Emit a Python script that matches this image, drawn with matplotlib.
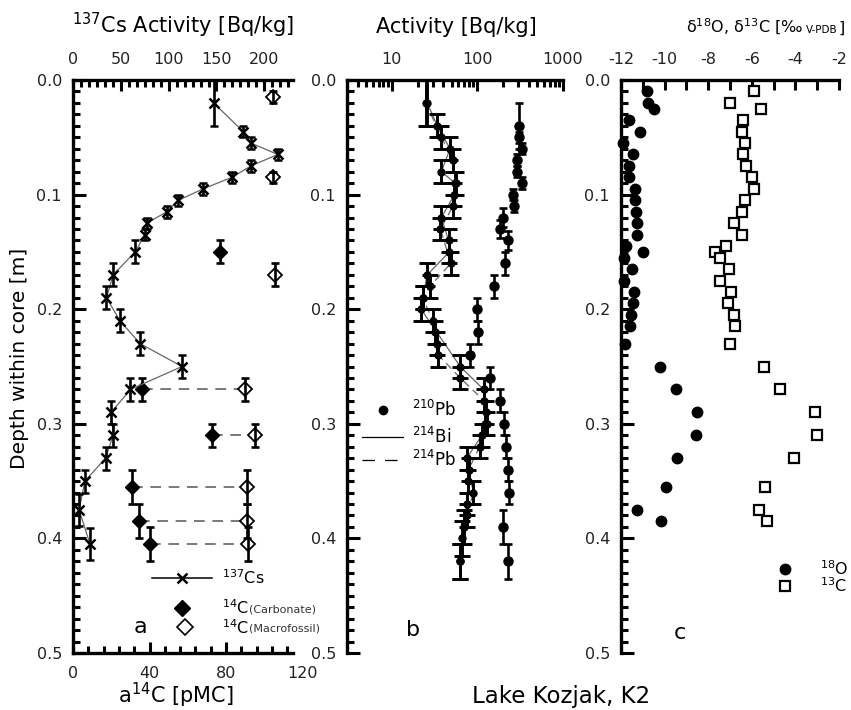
import matplotlib
matplotlib.use('Agg')
import matplotlib.pyplot as plt
from matplotlib.ticker import MultipleLocator, AutoMinorLocator, LogLocator, FormatStrFormatter, FuncFormatter, NullFormatter

plt.rcParams['font.family'] = 'DejaVu Sans'
plt.rcParams['axes.unicode_minus'] = False

# ---- panel a: 137Cs and 14C ----
depth_cs = [0.02, 0.045, 0.055, 0.065, 0.075, 0.085, 0.095, 0.105, 0.115, 0.125, 0.135,
            0.15, 0.17, 0.19, 0.21, 0.23, 0.25, 0.27, 0.29, 0.31, 0.33, 0.35, 0.375, 0.405]
cs137 = [147, 178, 186, 214, 186, 166, 136, 110, 98, 77, 75,
         65, 42, 35, 49, 70, 114, 60, 40, 42, 34, 12.5, 6.3, 17.8]
cs_err = [0.02, 0.005, 0.005, 0.005, 0.005, 0.005, 0.005, 0.005, 0.005, 0.005, 0.005,
          0.01, 0.01, 0.01, 0.01, 0.01, 0.01, 0.01, 0.01, 0.01, 0.01, 0.01, 0.014, 0.014]

depth_carb = [0.15, 0.27, 0.31, 0.355, 0.385, 0.405]
c14_carb = [77, 36, 72.5, 31, 34.5, 40]
carb_err = [0.01, 0.01, 0.01, 0.015, 0.015, 0.015]

depth_macro = [0.015, 0.085, 0.17, 0.27, 0.31, 0.355, 0.385, 0.405]
c14_macro = [104.7, 104.7, 105.6, 90, 95, 91, 91, 91.5]
macro_err = [0.005, 0.005, 0.01, 0.01, 0.01, 0.015, 0.015, 0.015]

# ---- panel b: 210Pb, 214Bi, 214Pb ----
depth_pb210 = [0.04, 0.05, 0.06, 0.07, 0.08, 0.09, 0.10, 0.11, 0.12, 0.13, 0.14, 0.16,
               0.18, 0.20, 0.22, 0.24, 0.26, 0.28, 0.30, 0.32, 0.34, 0.36, 0.39, 0.42]
pb210 = [303, 308, 331, 290, 294, 331, 264, 269, 199, 185, 227, 211,
         158, 99, 101, 82, 141, 185, 202, 217, 227, 233, 199, 227]
pb210_err = [0.02, 0.005, 0.005, 0.005, 0.005, 0.005, 0.005, 0.005, 0.008, 0.008, 0.008, 0.01,
             0.01, 0.01, 0.01, 0.01, 0.01, 0.01, 0.01, 0.01, 0.01, 0.01, 0.015, 0.015]

depth_bi = [0.02, 0.04, 0.06, 0.08, 0.09, 0.10, 0.12, 0.14, 0.15, 0.17, 0.19,
            0.20, 0.25, 0.27, 0.29, 0.30, 0.31, 0.33, 0.35, 0.37, 0.39, 0.42]
bi214 = [26, 34, 48, 38, 55, 54, 38, 46, 47, 26, 23,
         22, 63, 118, 127, 129, 113, 75, 78, 75, 69, 63]
bi_err = [0.02, 0.01, 0.01, 0.01, 0.01, 0.01, 0.01, 0.01, 0.01, 0.01, 0.01,
          0.01, 0.01, 0.01, 0.01, 0.01, 0.01, 0.01, 0.01, 0.01, 0.015, 0.015]

depth_pb214 = [0.02, 0.05, 0.07, 0.09, 0.11, 0.13, 0.16, 0.18, 0.19, 0.21, 0.22,
               0.23, 0.24, 0.26, 0.28, 0.30, 0.32, 0.34, 0.36, 0.38, 0.40, 0.42]
pb214 = [25, 38, 52, 56, 52, 37, 49, 28, 23, 30, 32,
         34, 35, 63, 120, 124, 106, 79, 90, 75, 66, 63]
pb214_err = [0.02, 0.01, 0.01, 0.01, 0.01, 0.01, 0.01, 0.01, 0.01, 0.01, 0.01,
             0.01, 0.01, 0.01, 0.01, 0.01, 0.01, 0.01, 0.01, 0.01, 0.015, 0.015]

# ---- panel c: stable isotopes ----
depth_iso = [0.01, 0.02, 0.025, 0.035, 0.045, 0.055, 0.065, 0.075, 0.085, 0.095,
             0.105, 0.115, 0.125, 0.135, 0.145, 0.15, 0.155, 0.165, 0.175, 0.185,
             0.195, 0.205, 0.215, 0.23, 0.25, 0.27, 0.29, 0.31, 0.33, 0.355, 0.375, 0.385]
d18o = [-10.8, -10.75, -10.5, -11.65, -11.15, -11.9, -11.45, -11.65, -11.65, -11.35,
        -11.35, -11.3, -11.25, -11.25, -11.75, -11.0, -11.85, -11.5, -11.85, -11.4,
        -11.45, -11.55, -11.6, -11.8, -10.2, -9.5, -8.5, -8.55, -9.45, -9.95, -11.25, -10.15]
d13c = [-5.9, -7.0, -5.6, -6.4, -6.45, -6.3, -6.4, -6.25, -6.0, -5.9,
        -6.3, -6.45, -6.8, -6.45, -7.2, -7.7, -7.45, -7.05, -7.45, -6.95,
        -7.1, -6.8, -6.75, -7.0, -5.45, -4.7, -3.1, -3.0, -4.05, -5.4, -5.65, -5.3]

W, H = 851, 710
TXT = '#222222'
fig = plt.figure(figsize=(W / 100, H / 100), dpi=100)


def axbox(x0, x1, y0=80, y1=653):
    return [x0 / W, 1 - y1 / H, (x1 - x0) / W, (y1 - y0) / H]


def depth_axis(ax):
    ax.set_ylim(0.5, 0)
    ax.yaxis.set_major_locator(MultipleLocator(0.1))
    ax.yaxis.set_minor_locator(MultipleLocator(0.01))
    ax.yaxis.set_major_formatter(FormatStrFormatter('%.1f'))
    ax.spines['right'].set_visible(False)
    ax.spines['left'].set_linewidth(2.4)
    ax.tick_params(axis='y', which='major', direction='in', length=9, width=2.2,
                   labelsize=11.5, labelcolor=TXT, pad=8)
    ax.tick_params(axis='y', which='minor', direction='in', length=5, width=2.2)


def top_axis(ax):
    ax.spines['top'].set_linewidth(2.4)
    ax.xaxis.set_ticks_position('top')
    ax.xaxis.set_label_position('top')
    ax.tick_params(axis='x', which='major', direction='in', length=8, width=2.2,
                   labelsize=11.5, labelcolor=TXT, pad=9, top=True, bottom=False,
                   labeltop=True, labelbottom=False)
    ax.tick_params(axis='x', which='minor', direction='in', length=5, width=2.2,
                   top=True, bottom=False)


# ================= panel a =================
ax_a = fig.add_axes(axbox(73, 293))
depth_axis(ax_a)
ax_a.set_xlim(0, 115)
ax_a.spines['top'].set_visible(False)
ax_a.spines['bottom'].set_linewidth(2.4)
ax_a.xaxis.set_major_locator(MultipleLocator(40))
ax_a.xaxis.set_minor_locator(MultipleLocator(8))
ax_a.tick_params(axis='x', which='major', direction='in', length=8, width=2.2,
                 labelsize=11.5, labelcolor=TXT, pad=9, top=False)
ax_a.tick_params(axis='x', which='minor', direction='in', length=5, width=2.2, top=False)
ax_a.annotate('120', xy=(120, 0), xycoords=('data', 'axes fraction'), xytext=(0, -9),
              textcoords='offset points', ha='center', va='top', fontsize=11.5,
              color=TXT, annotation_clip=False)

# dashed links between carbonate and macrofossil ages at the same depth
for d, c in zip(depth_carb, c14_carb):
    if d in depth_macro:
        m = c14_macro[depth_macro.index(d)]
        ax_a.plot([c, m], [d, d], color='#555555', lw=1.1, ls=(0, (7, 5)), zorder=1)

ax_a.plot(c14_macro, depth_macro, 'D', ms=7.5, mfc='white', mec='black', mew=1.3, zorder=3)
ax_a.errorbar(c14_macro, depth_macro, yerr=macro_err, fmt='none', ecolor='black',
              elinewidth=1.9, capsize=3.2, capthick=1.9, zorder=4)
ax_a.errorbar(c14_carb, depth_carb, yerr=carb_err, fmt='D', ms=7.5, color='black',
              ecolor='black', elinewidth=1.9, capsize=3.2, capthick=1.9, zorder=4)

ax_cs = ax_a.twiny()
ax_cs.set_xlim(0, 230)
ax_cs.set_ylim(0.5, 0)
for s in ['left', 'right', 'bottom']:
    ax_cs.spines[s].set_visible(False)
top_axis(ax_cs)
ax_cs.xaxis.set_major_locator(MultipleLocator(50))
ax_cs.xaxis.set_minor_locator(AutoMinorLocator(6))
ax_cs.plot(cs137, depth_cs, color='#666666', lw=0.9, zorder=2)
ax_cs.errorbar(cs137, depth_cs, yerr=cs_err, fmt='x', ms=7, mew=1.8, color='black',
               ecolor='black', elinewidth=1.9, capsize=3.2, capthick=1.9, zorder=3)

# legend a
ax_a.plot([0.358, 0.63], [0.131, 0.131], color='black', lw=1.1, transform=ax_a.transAxes)
ax_a.plot([0.494], [0.131], 'x', ms=7, mew=1.8, color='black', transform=ax_a.transAxes)
ax_a.plot([0.494], [0.0785], 'D', ms=8, color='black', transform=ax_a.transAxes)
ax_a.plot([0.509], [0.045], 'D', ms=8, mfc='white', mec='black', mew=1.2,
          transform=ax_a.transAxes)
ax_a.text(0.676, 0.131, r'$^{137}$Cs', transform=ax_a.transAxes, fontsize=11.5, va='center')
ax_a.text(0.676, 0.0785, r'$^{14}$C', transform=ax_a.transAxes, fontsize=11.5, va='center')
ax_a.text(0.676, 0.045, r'$^{14}$C', transform=ax_a.transAxes, fontsize=11.5, va='center')
ax_a.text(0.8, 0.0765, '(Carbonate)', transform=ax_a.transAxes, fontsize=8, va='center',
          color='#333333', clip_on=False)
ax_a.text(0.8, 0.0435, '(Macrofossil)', transform=ax_a.transAxes, fontsize=8, va='center',
          color='#333333', clip_on=False)
ax_a.text(0.305, 0.045, 'a', transform=ax_a.transAxes, fontsize=16, ha='center', va='center')

# ================= panel b =================
ax_b = fig.add_axes(axbox(347, 563))
depth_axis(ax_b)
top_axis(ax_b)
ax_b.spines['bottom'].set_visible(False)
ax_b.set_xscale('log')
ax_b.set_xlim(3, 1000)
ax_b.xaxis.set_major_locator(LogLocator(base=10, numticks=10))
ax_b.xaxis.set_minor_locator(LogLocator(base=10, subs=range(2, 10), numticks=20))
ax_b.xaxis.set_major_formatter(FuncFormatter(lambda v, p: f'{v:g}'))
ax_b.xaxis.set_minor_formatter(NullFormatter())
ax_b.tick_params(axis='x', which='major', pad=9)

ax_b.plot(bi214, depth_bi, color='#666666', lw=0.9, zorder=2)
ax_b.plot(pb214, depth_pb214, color='#666666', lw=0.9, ls=(0, (6, 4)), zorder=2)
ax_b.errorbar(bi214, depth_bi, yerr=bi_err, fmt='o', ms=5, color='black', ecolor='black',
              elinewidth=2.1, capsize=6, capthick=2.1, zorder=3)
ax_b.errorbar(pb214, depth_pb214, yerr=pb214_err, fmt='o', ms=5, color='black',
              ecolor='black', elinewidth=2.1, capsize=6, capthick=2.1, zorder=3)
ax_b.errorbar(pb210, depth_pb210, yerr=pb210_err, fmt='o', ms=6.5, color='black',
              ecolor='black', elinewidth=1.9, capsize=3.2, capthick=1.9, zorder=3)

# legend b
ax_b.plot([0.165], [0.424], 'o', ms=6, color='black', transform=ax_b.transAxes)
ax_b.plot([0.068, 0.258], [0.3775, 0.3775], color='black', lw=0.9, transform=ax_b.transAxes)
ax_b.plot([0.068, 0.235], [0.337, 0.337], color='black', lw=0.9, ls=(0, (10, 8)),
          transform=ax_b.transAxes)
ax_b.text(0.3, 0.424, r'$^{210}$Pb', transform=ax_b.transAxes, fontsize=12, va='center')
ax_b.text(0.3, 0.3775, r'$^{214}$Bi', transform=ax_b.transAxes, fontsize=12, va='center')
ax_b.text(0.3, 0.337, r'$^{214}$Pb', transform=ax_b.transAxes, fontsize=12, va='center')
ax_b.text(0.306, 0.04, 'b', transform=ax_b.transAxes, fontsize=16, ha='center', va='center')

# ================= panel c =================
ax_c = fig.add_axes(axbox(621, 839))
depth_axis(ax_c)
top_axis(ax_c)
ax_c.spines['bottom'].set_visible(False)
ax_c.set_xlim(-12, -2)
ax_c.xaxis.set_major_locator(MultipleLocator(2))
ax_c.xaxis.set_minor_locator(MultipleLocator(1))
ax_c.tick_params(axis='x', which='minor', length=7)
ax_c.tick_params(axis='x', which='major', length=7)

ax_c.plot(d18o, depth_iso, 'o', ms=7.5, color='black', clip_on=False, zorder=3)
ax_c.plot(d13c, depth_iso, 's', ms=7, mfc='white', mec='black', mew=1.6, clip_on=False, zorder=3)

# legend c
ax_c.plot([0.752], [0.147], 'o', ms=7.5, color='black', transform=ax_c.transAxes)
ax_c.plot([0.752], [0.117], 's', ms=7, mfc='white', mec='black', mew=1.6,
          transform=ax_c.transAxes)
ax_c.text(0.915, 0.147, r'$^{18}$O', transform=ax_c.transAxes, fontsize=11.5, va='center',
          clip_on=False)
ax_c.text(0.915, 0.117, r'$^{13}$C', transform=ax_c.transAxes, fontsize=11.5, va='center',
          clip_on=False)
ax_c.text(0.271, 0.035, 'c', transform=ax_c.transAxes, fontsize=16, ha='center', va='center')

# ================= titles and labels =================
base_top = 1 - 33 / H
fig.text(183 / W, base_top, r'$^{137}$Cs Activity [Bq/kg]', fontsize=15, ha='center',
         va='baseline')
fig.text(456 / W, base_top, 'Activity [Bq/kg]', fontsize=15, ha='center', va='baseline')
t1 = fig.text(686 / W, base_top, r'δ$^{18}$O, δ$^{13}$C [‰', fontsize=11.5, ha='left',
              va='baseline')
fig.canvas.draw()
bb = t1.get_window_extent(fig.canvas.get_renderer())
t2 = fig.text((bb.x1 + 3) / W, base_top, 'V-PDB', fontsize=7.5, ha='left', va='baseline')
fig.canvas.draw()
bb2 = t2.get_window_extent(fig.canvas.get_renderer())
fig.text((bb2.x1 + 1) / W, base_top, ']', fontsize=11.5, ha='left', va='baseline')

fig.text(176 / W, 1 - 703 / H, r'a$^{14}$C [pMC]', fontsize=15, ha='center', va='baseline')
fig.text(561 / W, 1 - 703 / H, 'Lake Kozjak, K2', fontsize=16.5, ha='center', va='baseline')
fig.text(20 / W, 1 - 358 / H, 'Depth within core [m]', fontsize=14.5, rotation=90,
         ha='center', va='center')

fig.savefig('out.png', dpi=100)
